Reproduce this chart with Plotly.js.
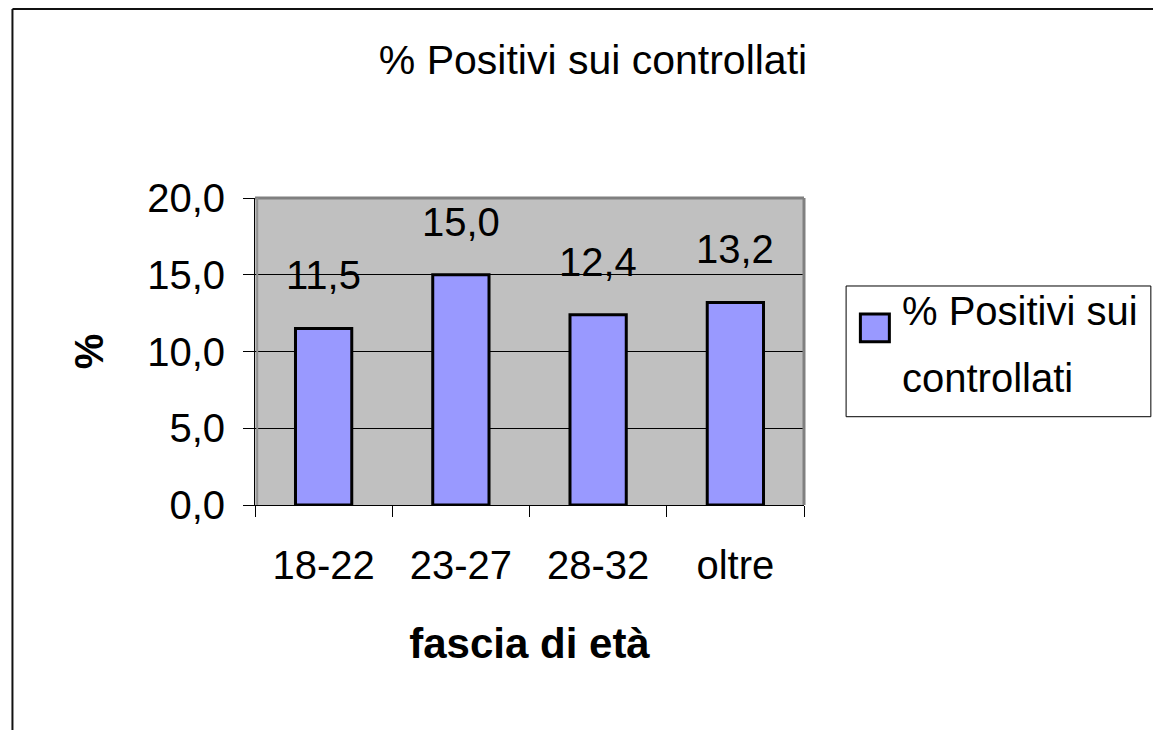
<!DOCTYPE html>
<html>
<head>
<meta charset="utf-8">
<script src="https://cdn.plot.ly/plotly-3.0.1.min.js"></script>
<style>
  html, body { margin: 0; padding: 0; background: #fff; }
  #chart { width: 1153px; height: 730px; }
</style>
</head>
<body>
<div id="chart"></div>
<script>
// ---- data ----
const categories = ["18-22", "23-27", "28-32", "oltre"];
const values = [11.5, 15.0, 12.4, 13.2];
const seriesName = "% Positivi sui controllati";
const legendLines = ["% Positivi sui", "controllati"];
const chartTitle = "% Positivi sui controllati";
const xTitle = "fascia di età";
const yTitle = "%";
const yTickValues = [0, 5, 10, 15, 20];

// ---- styles ----
const FONT = "Liberation Sans, Arial, sans-serif";
const BAR_FILL = "#9999FF";
const PLOT_BG = "#C0C0C0";

const fmt = v => v.toFixed(1).replace(".", ",");

const trace = {
  type: "bar",
  x: categories,
  y: values,
  name: seriesName,
  marker: { color: BAR_FILL, line: { color: "#000", width: 3 } },
  hoverinfo: "x+y",
  showlegend: false
};

// data labels (positioned by the axes)
const labelAnnotations = categories.map((c, i) => ({
  x: c, y: values[i], xref: "x", yref: "y",
  text: fmt(values[i]), showarrow: false,
  xanchor: "center", yanchor: "middle", yshift: 53,
  font: { family: FONT, size: 40, color: "#000" }
}));

// legend (manual, sized like the reference)
const legendAnnotations = legendLines.map((t, i) => ({
  x: 1.1755, y: i === 0 ? 0.6335 : 0.4137, xref: "paper", yref: "paper",
  text: t, showarrow: false, xanchor: "left", yanchor: "middle",
  font: { family: FONT, size: 40, color: "#000" }
}));

const layout = {
  width: 1153, height: 730,
  paper_bgcolor: "#fff",
  plot_bgcolor: PLOT_BG,
  separators: ",.",
  margin: { l: 255, r: 349, t: 198, b: 225, pad: 0 },
  bargap: 0.59,
  showlegend: false,
  font: { family: FONT, size: 40, color: "#000" },
  title: {
    text: chartTitle,
    font: { family: FONT, size: 41, color: "#000" },
    x: 593 / 1153, xanchor: "center", xref: "container",
    y: 1 - 60 / 730, yanchor: "middle", yref: "container"
  },
  xaxis: {
    type: "category",
    tickson: "boundaries",
    ticks: "outside", ticklen: 11, tickwidth: 1, tickcolor: "#000",
    ticklabelstandoff: 25,
    showline: true, linecolor: "#000", linewidth: 1,
    showgrid: false,
    tickfont: { family: FONT, size: 40, color: "#000" },
    title: { text: xTitle, font: { family: FONT, size: 42, color: "#000", weight: "bold" }, standoff: 42 },
    automargin: false,
    fixedrange: true
  },
  yaxis: {
    range: [0, 20],
    tickvals: yTickValues,
    tickformat: ".1f",
    ticks: "outside", ticklen: 11, tickwidth: 1, tickcolor: "#000",
    ticklabelstandoff: 10,
    showline: true, linecolor: "#000", linewidth: 1,
    showgrid: true, gridcolor: "#000", gridwidth: 1,
    zeroline: false,
    tickfont: { family: FONT, size: 40, color: "#000" },
    title: { text: yTitle, font: { family: FONT, size: 40, color: "#000", weight: "bold" }, standoff: 31 },
    automargin: false,
    fixedrange: true
  },
  shapes: [
    // plot-area border (grey)
    { type: "line", xref: "paper", yref: "paper", x0: 0, x1: 1, y0: 1, y1: 1, line: { color: "#808080", width: 3 }, layer: "above" },
    { type: "line", xref: "paper", yref: "paper", x0: 1, x1: 1, y0: 0, y1: 1, line: { color: "#808080", width: 3 }, layer: "above" },
    { type: "line", xref: "paper", yref: "paper", x0: 0.004, x1: 0.004, y0: 0, y1: 1, line: { color: "#909090", width: 2 }, layer: "above" },
    // outer chart border
    { type: "line", xref: "paper", yref: "paper", x0: -0.4418, x1: 2, y0: 1.6156, y1: 1.6156, line: { color: "#111", width: 2 } },
    { type: "line", xref: "paper", yref: "paper", x0: -0.4418, x1: -0.4418, y0: -2, y1: 1.6156, line: { color: "#111", width: 2 } },
    // legend box
    { type: "rect", xref: "paper", yref: "paper", x0: 1.0767, x1: 1.6318, y0: 0.2876, y1: 0.7134, line: { color: "#000", width: 1 }, fillcolor: "#fff" },
    // legend symbol
    { type: "rect", xref: "paper", yref: "paper", x0: 1.1027, x1: 1.1555, y0: 0.5319, y1: 0.6221, line: { color: "#000", width: 3 }, fillcolor: BAR_FILL }
  ],
  annotations: labelAnnotations.concat(legendAnnotations)
};

Plotly.newPlot("chart", [trace], layout, { displayModeBar: false, staticPlot: true });
</script>
</body>
</html>
